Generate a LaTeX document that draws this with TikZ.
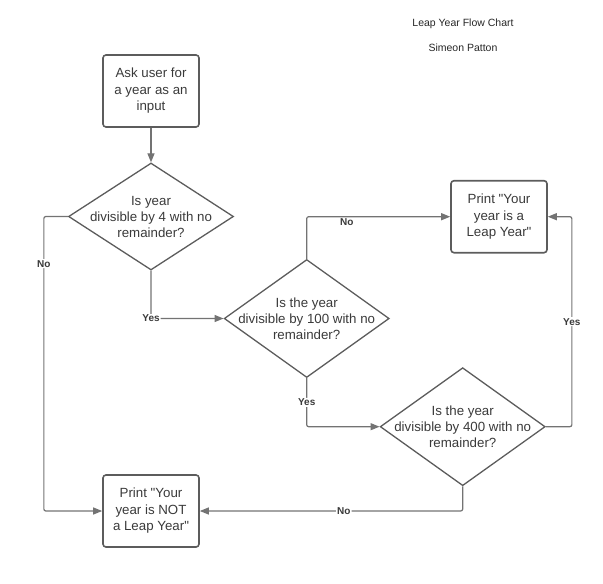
\documentclass[tikz,border=0pt]{standalone}
\usepackage{fontspec}
\setmainfont{Liberation Sans}
\usetikzlibrary{shapes.geometric,arrows.meta}
\definecolor{linegray}{HTML}{737373}
\definecolor{boxgray}{HTML}{5C5C5C}
\definecolor{txtgray}{HTML}{3A3A3A}
\begin{document}
\begin{tikzpicture}[x=1pt,y=-1pt,
  proc/.style={draw=boxgray,line width=1.6pt,rounded corners=3pt,minimum width=96pt,minimum height=72pt,align=center,text=txtgray,font=\fontsize{13.3}{16.5}\selectfont},
  decision/.style={diamond,draw=boxgray,line width=1.3pt,minimum width=165pt,inner sep=0pt},
  qtext/.style={align=center,text=txtgray,font=\fontsize{13.3}{16}\selectfont},
  flow/.style={draw=linegray,line width=1.2pt,rounded corners=2pt,-{Triangle[length=9pt,width=7pt]}},
  lbl/.style={fill=white,inner sep=1pt,text=txtgray,font=\bfseries\fontsize{10}{12}\selectfont},
  heading/.style={text=black!85,font=\fontsize{10.5}{12}\selectfont}]
\useasboundingbox (0,0) rectangle (603,584);
\node[heading] (title) at (463,23.3) {Leap Year Flow Chart};
\node[heading] (author) at (463,47.7) {Simeon Patton};
\node[proc] (input) at (151,91) {Ask user for\\a year as an\\input};
\node[decision,minimum height=107pt] (div4) at (151,216.5) {};
\node[qtext] at (div4) {Is year\\divisible by 4 with no\\remainder?};
\node[decision,minimum height=118pt] (div100) at (306.7,318.5) {};
\node[qtext] at (div100) {Is the year\\divisible by 100 with no\\remainder?};
\node[decision,minimum height=118pt] (div400) at (462.7,426.7) {};
\node[qtext] at (div400) {Is the year\\divisible by 400 with no\\remainder?};
\node[proc] (leap) at (499,216.7) {Print \textquotedbl Your\\year is a\\Leap Year\textquotedbl};
\node[proc] (notleap) at (151,511) {Print \textquotedbl Your\\year is NOT\\a Leap Year\textquotedbl};
\draw[flow] (input) -- (div4);
\draw[flow] (div4.west) -- ++(-24,0) |- (notleap.west) node[lbl,pos=0.08] {No};
\draw[flow] (div4.south) |- (div100.west) node[lbl,pos=0.5] {Yes};
\draw[flow] (div100.north) |- (leap.west) node[lbl,below,fill=none,pos=0.64] {No};
\draw[flow] (div100.south) |- (div400.west) node[lbl,pos=0.25] {Yes};
\draw[flow] (div400.east) -- ++(26,0) |- (leap.east) node[lbl,pos=0.25] {Yes};
\draw[flow] (div400.south) |- (notleap.east) node[lbl,pos=0.726] {No};
\end{tikzpicture}
\end{document}
